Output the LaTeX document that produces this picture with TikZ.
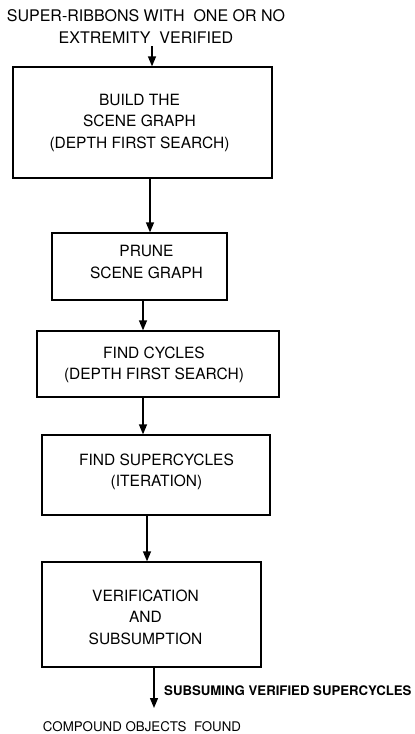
\documentclass[tikz,border=0pt]{standalone}
\usepackage{fontspec}
\setmainfont{TeX Gyre Heros}
\usetikzlibrary{arrows.meta}
\begin{document}
\begin{tikzpicture}[x=1pt,y=-1pt,
  stepbox/.style={draw, line width=1.3pt, inner sep=0pt, minimum width=#1},
  boxtext/.style={inner sep=0pt, align=center, font=\fontsize{15.5}{21.5}\selectfont},
  flow/.style={line width=1.3pt, -{Triangle[width=8pt,length=10pt]}},
  small/.style={inner sep=0pt, font=\fontsize{13.3}{16}\selectfont}
]
\fill[white] (0,0) rectangle (415,734);
\useasboundingbox (0,0) rectangle (415,734);

% input
\node[inner sep=0pt, align=center, font=\fontsize{16}{22}\selectfont] (src) at (146,27)
  {SUPER-RIBBONS WITH\ \ ONE OR NO\\EXTREMITY\ \ VERIFIED};

% processing steps
\node[stepbox=259pt, minimum height=111pt] (b1) at (142.5,122.5) {};
\node[boxtext] (t1) at (139.5,122.5) {BUILD THE\\SCENE GRAPH\\(DEPTH FIRST SEARCH)};

\node[stepbox=175pt, minimum height=67pt] (b2) at (139.5,266.5) {};
\node[boxtext] (t2) at (146.5,262) {PRUNE\\SCENE GRAPH};

\node[stepbox=242pt, minimum height=66pt] (b3) at (158,364) {};
\node[boxtext] (t3) at (154,365) {FIND CYCLES\\(DEPTH FIRST SEARCH)};

\node[stepbox=228pt, minimum height=80pt] (b4) at (156,475) {};
\node[boxtext] (t4) at (156.5,472) {FIND SUPERCYCLES\\(ITERATION)};

\node[stepbox=219pt, minimum height=105pt] (b5) at (151.5,614.5) {};
\node[boxtext] (t5) at (145.5,617) {VERIFICATION\\AND\\SUBSUMPTION};

% output
\node[small] (res) at (142,727) {COMPOUND OBJECTS\ \ FOUND};
\node[small, anchor=west, font=\fontsize{13.2}{16}\selectfont\bfseries] (lab) at (164,691)
  {SUBSUMING VERIFIED SUPERCYCLES};

% connector columns
\coordinate (c0) at (152,46);
\coordinate (c12) at (150,0);
\coordinate (c23) at (143,0);
\coordinate (c34) at (143,0);
\coordinate (c45) at (147,0);
\coordinate (out) at (154,708);

\draw[flow] (c0) -- (b1.north -| c0);
\draw[flow] (b1.south -| c12) -- (b2.north -| c12);
\draw[flow] (b2.south -| c23) -- (b3.north -| c23);
\draw[flow] (b3.south -| c34) -- (b4.north -| c34);
\draw[flow] (b4.south -| c45) -- (b5.north -| c45);
\draw[flow] (b5.south -| out) -- (out);
\end{tikzpicture}
\end{document}
